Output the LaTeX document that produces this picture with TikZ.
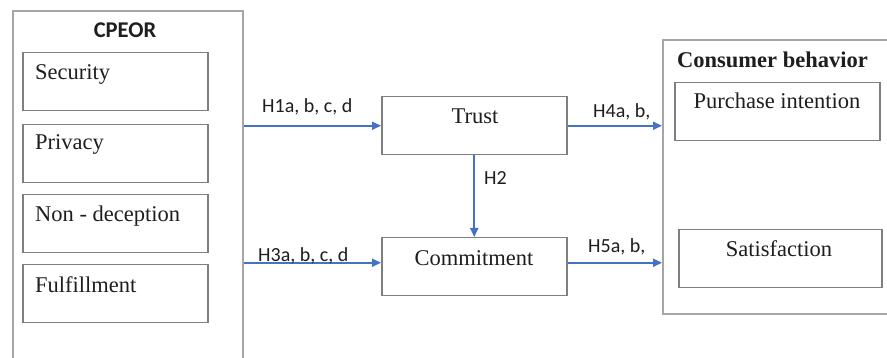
\documentclass[tikz,border=0pt]{standalone}
\usepackage{fontspec}
\setmainfont{Liberation Serif}
\newfontfamily\calibri{Carlito}
\usetikzlibrary{arrows.meta}
\definecolor{boxgray}{HTML}{7F7F7F}
\definecolor{outgray}{HTML}{A6A6A6}
\definecolor{arrblue}{HTML}{4472C4}
\definecolor{txt}{HTML}{1E1E1E}
\begin{document}
\begin{tikzpicture}[x=1pt,y=-1pt,
  outbox/.style={draw=outgray,line width=1.8pt,inner sep=0pt},
  inbox/.style={draw=boxgray,line width=1.5pt,inner sep=0pt,fill=white},
  serif/.style={text=txt,inner sep=0pt,font=\fontsize{22.5}{26}\selectfont},
  hlab/.style={text=txt,inner sep=0pt,font=\calibri\fontsize{20}{24}\selectfont},
  arr/.style={draw=arrblue,line width=1.8pt,-{Triangle[length=9pt,width=8pt]}}]
\clip (0,0) rectangle (887,358);
\fill[white] (0,0) rectangle (887,358);
% outer boxes
\node[outbox,minimum width=230pt,minimum height=380pt,anchor=north west] (cpeor) at (12,10) {};
\node[outbox,minimum width=260pt,minimum height=274pt,anchor=north west] (cons) at (662,39) {};
% CPEOR inner boxes
\node[inbox,minimum width=185pt,minimum height=58pt,anchor=north west] (sec) at (22,52) {};
\node[inbox,minimum width=185pt,minimum height=58pt,anchor=north west] (pri) at (22,124) {};
\node[inbox,minimum width=185pt,minimum height=58pt,anchor=north west] (non) at (22,194) {};
\node[inbox,minimum width=185pt,minimum height=58pt,anchor=north west] (ful) at (22,264) {};
% middle boxes
\node[inbox,minimum width=185pt,minimum height=58pt,anchor=north west] (trust) at (381,96) {};
\node[inbox,minimum width=185pt,minimum height=58pt,anchor=north west] (commit) at (381,237) {};
% consumer inner boxes
\node[inbox,minimum width=205pt,minimum height=58pt,anchor=north west] (pur) at (674,82) {};
\node[inbox,minimum width=203pt,minimum height=58pt,anchor=north west] (sat) at (678,229) {};
% texts
\node[text=txt,inner sep=0pt,font=\calibri\bfseries\fontsize{22.5}{26}\selectfont,anchor=base] (cpeort) at (125,38) {CPEOR};
\node[serif,anchor=base west] (sect) at (35,80) {Security};
\node[serif,anchor=base west] (prit) at (35,150) {Privacy};
\node[serif,anchor=base west] (nont) at (35,222) {Non - deception};
\node[serif,anchor=base west] (fult) at (35,293) {Fulfillment};
\node[serif,anchor=base] (trustt) at (475,124) {Trust};
\node[serif,anchor=base] (committ) at (474,266) {Commitment};
\node[serif,anchor=base] (purt) at (777,109) {Purchase intention};
\node[serif,anchor=base] (satt) at (779,257) {Satisfaction};
\node[serif,font=\bfseries\fontsize{22.5}{26}\selectfont,anchor=base west] (const) at (677,68) {Consumer behavior};
% arrows
\draw[arr] (cpeor.east |- trust.west) -- (trust.west);
\draw[arr] ([yshift=4pt]cpeor.east |- commit.west) -- ([yshift=4pt]commit.west);
\draw[arr] (trust.east) -- (cons.west |- trust.east);
\draw[arr] ([yshift=4pt]commit.east) -- ([yshift=4pt]cons.west |- commit.east);
\draw[arr] (trust.south) -- (commit.north);
% labels
\node[hlab,anchor=base west] (h1) at (262,113) {H1a, b, c, d};
\node[hlab,anchor=base west] (h3) at (258,262) {H3a, b, c, d};
\node[hlab,anchor=base west] (h4) at (593,118) {H4a, b,};
\node[hlab,anchor=base west] (h5) at (588,253) {H5a, b,};
\node[hlab,anchor=base west] (h2) at (484,185) {H2};
\end{tikzpicture}
\end{document}
